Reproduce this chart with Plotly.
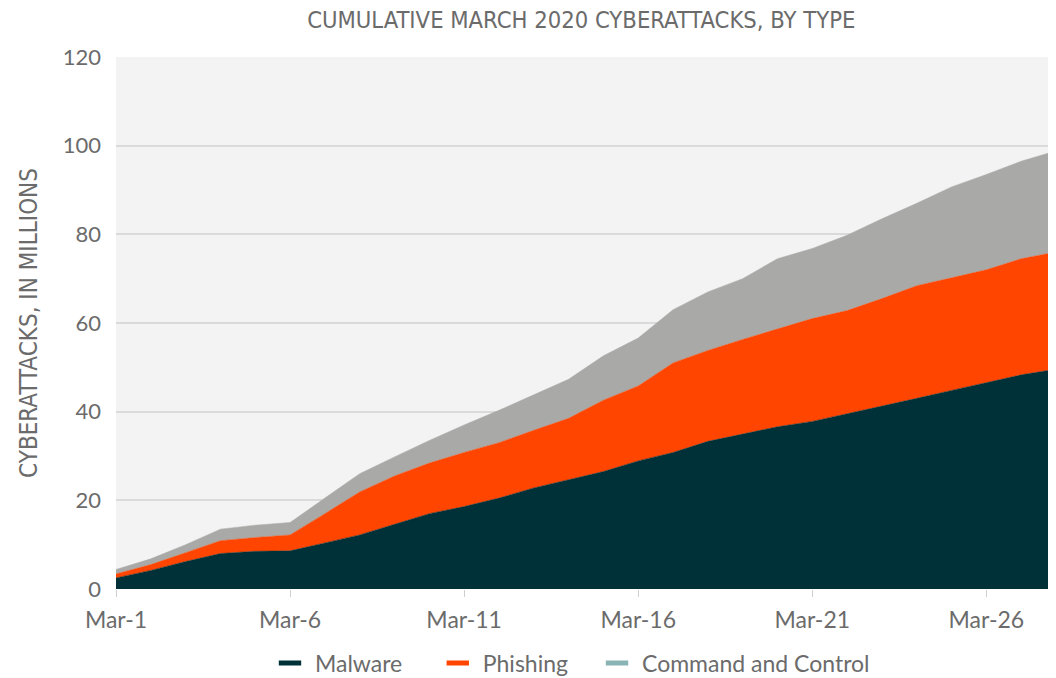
import pandas as pd
import plotly.graph_objects as go

# Cumulative cyberattacks in March 2020, millions
days = pd.date_range("2020-03-01", "2020-03-28", freq="D")

malware = [2.5, 4.2, 6.2, 8.0, 8.5, 8.6, 10.4, 12.2, 14.6, 17.0, 18.6, 20.5, 22.8, 24.6,
           26.5, 28.9, 30.8, 33.3, 35.0, 36.6, 37.8, 39.5, 41.3, 43.0, 44.8, 46.5, 48.3, 49.6]
phishing = [0.9, 1.3, 2.0, 2.9, 3.1, 3.6, 6.6, 9.7, 10.9, 11.4, 12.2, 12.5, 13.0, 13.9,
            16.1, 16.9, 20.2, 20.5, 21.3, 22.0, 23.2, 23.3, 24.2, 25.4, 25.4, 25.5, 26.2, 26.4]
command_control = [1.0, 1.3, 1.8, 2.6, 2.8, 2.8, 3.5, 4.1, 4.3, 5.1, 6.2, 7.3, 8.0, 8.8,
                   10.0, 10.8, 12.0, 13.2, 13.7, 15.9, 15.8, 17.0, 18.0, 18.6, 20.5, 21.5, 22.0, 22.8]

series = ["Malware", "Phishing", "Command and Control"]
area_colors = ["#003038", "#FF4500", "#A9A9A7"]
legend_colors = ["#003038", "#FF4500", "#8AB3B3"]
legend_ids = ["legend", "legend2", "legend3"]
legend_x = [0.1585, 0.337, 0.5064]   # paper fractions, one legend per entry

FONT = "Lato"
NARROW = "DejaVu Sans Condensed, Liberation Sans Narrow, Lato"
GREY = "#6b6b6b"

fig = go.Figure()

for name, vals, col in zip(series, [malware, phishing, command_control], area_colors):
    fig.add_trace(go.Scatter(
        x=days, y=vals, name=name, stackgroup="one", mode="lines",
        line=dict(width=0.5, color=col), fillcolor=col, showlegend=False,
    ))

# legend-only entries (the legend swatch for C&C is teal, not grey)
for name, col, lid in zip(series, legend_colors, legend_ids):
    fig.add_trace(go.Scatter(
        x=[None], y=[None], name=name, mode="markers", legend=lid,
        marker=dict(symbol="line-ew", size=22, line=dict(width=7, color=col)),
    ))

# the page body has an 8px margin; the figure is offset by it
fig.update_layout(
    width=1048, height=678,
    margin=dict(l=108, r=0, t=49, b=97),
    paper_bgcolor="white", plot_bgcolor="#f3f3f3",
    font=dict(family=FONT, color=GREY, size=21),
    title=dict(text="CUMULATIVE MARCH 2020 CYBERATTACKS, BY TYPE",
               font=dict(family=NARROW, size=23.6, color=GREY),
               x=0.547, xanchor="center", y=0.9823, yanchor="middle", automargin=False),
    showlegend=True,
)
for lid, lx in zip(legend_ids, legend_x):
    fig.update_layout({lid: dict(
        orientation="h", x=lx, xanchor="left",
        y=-0.139, yanchor="middle", itemwidth=40,
        font=dict(family=FONT, size=23, color=GREY), bgcolor="rgba(0,0,0,0)",
    )})

fig.update_xaxes(
    range=[days[0], days[-1]], automargin=False,
    tick0=days[0], dtick=5 * 86400000, tickformat="%b-%-d",
    ticks="outside", ticklen=7, tickcolor="#cfcfcf",
    showgrid=False, zeroline=False, showline=False,
    tickfont=dict(size=23, color=GREY), ticklabelstandoff=3,
)

fig.update_yaxes(
    range=[0, 120], dtick=20, automargin=False,
    showgrid=True, gridcolor="#dadada", gridwidth=1.5,
    zeroline=False, showline=False,
    tickfont=dict(size=22, color=GREY), ticklabelstandoff=14,
    title=dict(text="CYBERATTACKS, IN MILLIONS",
               font=dict(family=NARROW, size=24, color=GREY),
               standoff=18),
)

fig.write_html("out.html")
